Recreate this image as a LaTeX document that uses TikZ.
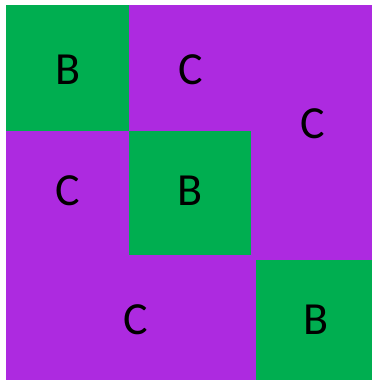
\documentclass[tikz,border=0pt]{standalone}
\usepackage{fontspec}
\setmainfont{Carlito}
\definecolor{blkgreen}{RGB}{0,174,80}
\definecolor{blkpurple}{RGB}{173,42,224}
\tikzset{
  blk/.style={font=\fontsize{46}{46}\selectfont, text=black, inner sep=0pt}
}
\begin{document}
\begin{tikzpicture}[x=1pt,y=-1pt]
\useasboundingbox (0,0) rectangle (374,382);
\fill[blkpurple] (6,5) rectangle (372,380);
\fill[blkgreen] (6,5) rectangle (129,131);
\fill[blkgreen] (129,131) rectangle (251,255);
\fill[blkgreen] (256,260) rectangle (372,380);
\node[blk] (b1) at (68,70) {B};
\node[blk] (c1) at (191,70) {C};
\node[blk] (c2) at (313,124) {C};
\node[blk] (c3) at (68,191) {C};
\node[blk] (b2) at (190,191) {B};
\node[blk] (c4) at (136,320) {C};
\node[blk] (b3) at (316,320) {B};
\end{tikzpicture}
\end{document}
